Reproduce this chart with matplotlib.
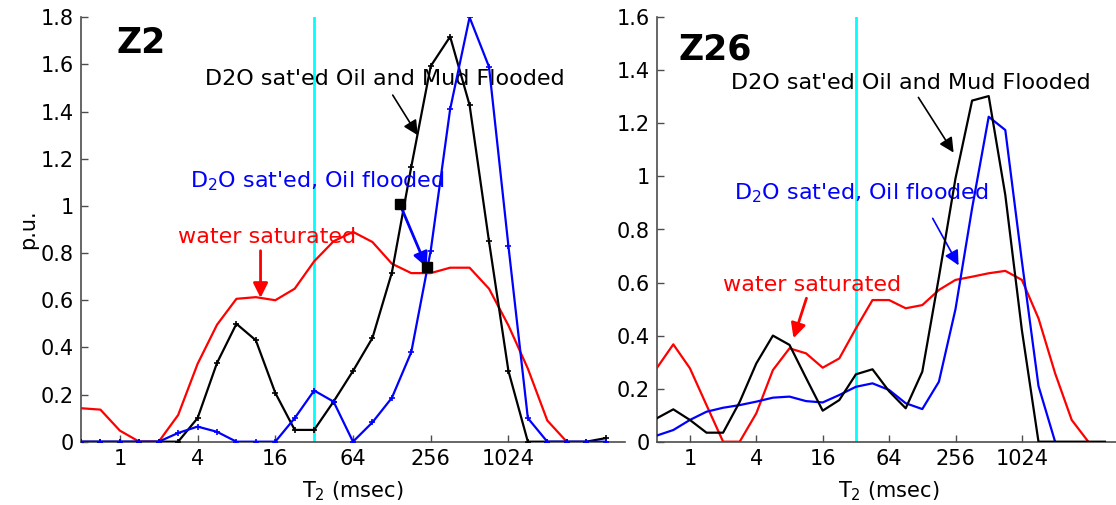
import matplotlib
matplotlib.use("Agg")
import matplotlib.pyplot as plt
from matplotlib.ticker import FixedLocator, FixedFormatter, FuncFormatter

# T2 bin centres (msec), half-octave spacing
t2_bins = [0.5, 0.707, 1, 1.414, 2, 2.828, 4, 5.657, 8, 11.31, 16, 22.63, 32, 45.25,
           64, 90.51, 128, 181.0, 256, 362.0, 512, 724.1, 1024, 1448, 2048, 2896, 4096, 5793]

# Z2 panel
z2_water = [0.142, 0.136, 0.047, 0, 0, 0.113, 0.33, 0.496, 0.606, 0.613, 0.60, 0.649, 0.765,
            0.85, 0.89, 0.847, 0.755, 0.715, 0.715, 0.738, 0.738, 0.649, 0.493, 0.31, 0.09, 0]
z2_oil_mud = [0, 0, 0, 0, 0, 0, 0.10, 0.334, 0.50, 0.43, 0.207, 0.05, 0.05, 0.17, 0.30, 0.44,
              0.717, 1.166, 1.593, 1.718, 1.428, 0.85, 0.30, 0, 0, 0, 0, 0.015]
z2_oil = [0, 0, 0, 0, 0, 0.037, 0.064, 0.042, 0, 0, 0, 0.10, 0.217, 0.17, 0, 0.082, 0.186,
          0.38, 0.81, 1.41, 1.80, 1.59, 0.83, 0.10, 0, 0, 0, 0]

# Z26 panel
z26_water = [0.277, 0.367, 0.277, 0.138, 0, 0, 0.107, 0.27, 0.352, 0.333, 0.279, 0.314, 0.427,
             0.534, 0.534, 0.503, 0.515, 0.572, 0.61, 0.622, 0.635, 0.644, 0.61, 0.465, 0.258,
             0.082, 0]
z26_oil_mud = [0.088, 0.122, 0.082, 0.034, 0.034, 0.15, 0.295, 0.40, 0.365, 0.24, 0.117, 0.157,
               0.254, 0.273, 0.19, 0.126, 0.264, 0.62, 0.993, 1.286, 1.303, 0.93, 0.42, 0, 0, 0,
               0, 0]
z26_oil = [0.023, 0.044, 0.082, 0.113, 0.128, 0.138, 0.151, 0.166, 0.17, 0.153, 0.148, 0.176,
           0.207, 0.22, 0.195, 0.145, 0.123, 0.226, 0.50, 0.88, 1.225, 1.175, 0.68, 0.21, 0]

cutoff = 32
xticks = [1, 4, 16, 64, 256, 1024]
xtick_labels = ["1", "4", "16", "64", "256", "1024"]

# annotation anchors (T2, p.u.)
z2_squares_x = [147, 238]
z2_squares_y = [1.01, 0.74]

W, H = 1116, 505
fig = plt.figure(figsize=(W / 100, H / 100), dpi=100)

ax1 = fig.add_axes([81 / W, 1 - 441.7 / H, (625 - 81) / W, (441.7 - 17.3) / H])
ax2 = fig.add_axes([656.7 / W, 1 - 441.7 / H, (1121.5 - 656.7) / W, (441.7 - 17.3) / H])


def style_axes(ax, ymax):
    ax.set_xscale("log", base=2)
    ax.set_xlim(0.5, 8192)
    ax.set_ylim(0, ymax)
    ax.xaxis.set_major_locator(FixedLocator(xticks))
    ax.xaxis.set_major_formatter(FixedFormatter(xtick_labels))
    ax.xaxis.set_minor_locator(FixedLocator([]))
    ax.set_yticks([round(0.2 * i, 1) for i in range(int(round(ymax / 0.2)) + 1)])
    ax.yaxis.set_major_formatter(FuncFormatter(lambda v, p: "%g" % v))
    for s in ["top", "right"]:
        ax.spines[s].set_visible(False)
    for s in ["left", "bottom"]:
        ax.spines[s].set_color("0.3")
        ax.spines[s].set_linewidth(1.2)
    ax.tick_params(direction="in", length=5, width=1, color="0.3", labelsize=15, pad=5)
    ax.set_xlabel("T$_2$ (msec)", fontsize=15, labelpad=8)
    ax.axvline(cutoff, color="cyan", lw=2, zorder=1)


def arrow(ax, tail, head, color, lw=1.2):
    ax.annotate("", xy=head, xytext=tail,
                arrowprops=dict(arrowstyle="-|>", color=color, lw=lw, mutation_scale=22,
                                shrinkA=0, shrinkB=0))


# ---- Z2 ----
style_axes(ax1, 1.8)
ax1.plot(t2_bins[:len(z2_water)], z2_water, color="red", lw=1.6, zorder=2)
ax1.plot(t2_bins, z2_oil_mud, color="black", lw=1.6, marker="+", ms=4, mew=1.2, zorder=3)
ax1.plot(t2_bins, z2_oil, color="blue", lw=1.6, marker="+", ms=4, mew=1.2, zorder=4)
ax1.set_ylabel("p.u.", fontsize=15, labelpad=2)

ax1.text(0.95, 1.69, "Z2", fontsize=25, fontweight="bold", va="center", ha="left")
ax1.text(4.6, 1.537, "D2O sat'ed Oil and Mud Flooded", fontsize=16, va="center", ha="left")
arrow(ax1, (130, 1.47), (203, 1.30), "black")
ax1.text(3.5, 1.105, "D$_2$O sat'ed, Oil flooded", color="blue", fontsize=16,
         va="center", ha="left")
arrow(ax1, (z2_squares_x[0], z2_squares_y[0]), (z2_squares_x[1], z2_squares_y[1]), "blue", lw=2)
ax1.plot(z2_squares_x, z2_squares_y, "ks", ms=7, zorder=6)
ax1.text(2.8, 0.87, "water saturated", color="red", fontsize=16, va="center", ha="left")
arrow(ax1, (12.3, 0.81), (12.3, 0.61), "red", lw=2)

# ---- Z26 ----
style_axes(ax2, 1.6)
ax2.plot(t2_bins[:len(z26_water)], z26_water, color="red", lw=1.6, zorder=2)
ax2.plot(t2_bins[:len(z26_oil)], z26_oil, color="blue", lw=1.6, zorder=3)
ax2.plot(t2_bins, z26_oil_mud, color="black", lw=1.6, zorder=4)

ax2.text(0.79, 1.478, "Z26", fontsize=25, fontweight="bold", va="center", ha="left")
ax2.text(2.34, 1.354, "D2O sat'ed Oil and Mud Flooded", fontsize=16, va="center", ha="left")
arrow(ax2, (118, 1.298), (246, 1.09), "black")
ax2.text(2.49, 0.936, "D$_2$O sat'ed, Oil flooded", color="blue", fontsize=16,
         va="center", ha="left")
arrow(ax2, (159, 0.842), (273, 0.665), "blue")
ax2.text(1.98, 0.59, "water saturated", color="red", fontsize=16, va="center", ha="left")
arrow(ax2, (11.4, 0.541), (8.7, 0.39), "red", lw=2)

fig.savefig("out.png", dpi=100)
